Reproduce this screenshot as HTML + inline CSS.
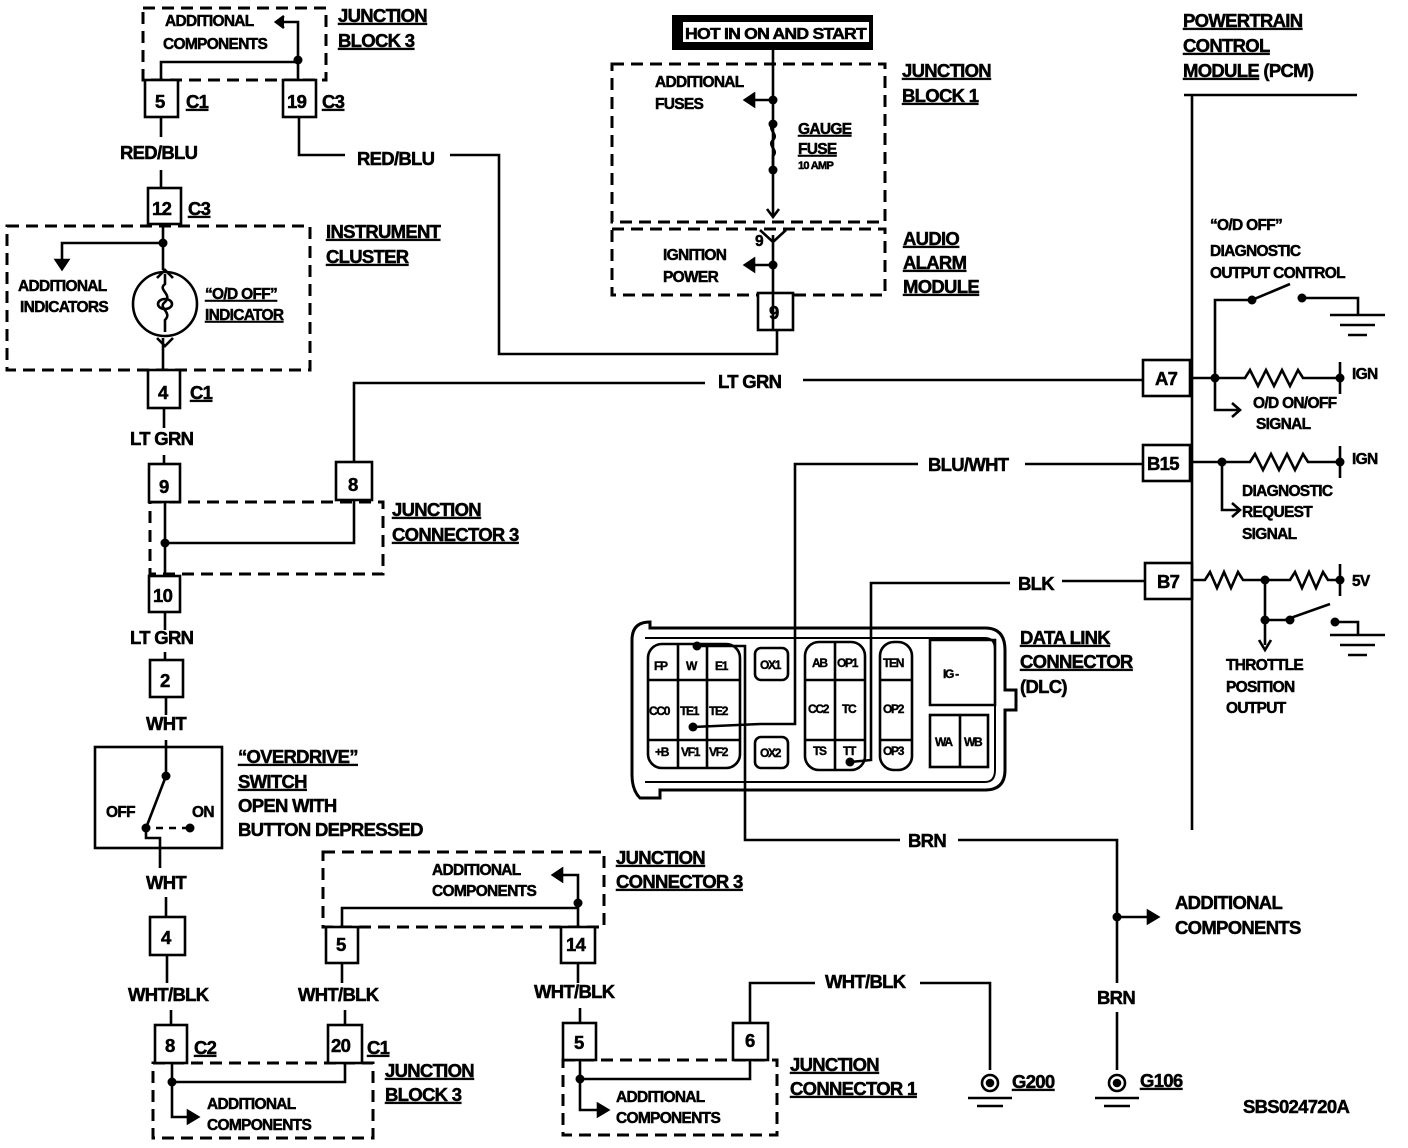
<!DOCTYPE html>
<html><head><meta charset="utf-8"><style>
html,body{margin:0;padding:0;background:#fff;}
svg{display:block;}
text{font-family:"Liberation Sans",Arial,sans-serif;font-weight:bold;font-size:18.5px;fill:#000;stroke:#000;stroke-width:0.5px;letter-spacing:-0.7px;}
.s{font-size:15.5px;}
.u{text-decoration:underline;}
.d{font-size:12px;letter-spacing:-1.3px;stroke-width:0.4px;}
</style></head><body>
<svg width="1408" height="1148" viewBox="0 0 1408 1148" xmlns="http://www.w3.org/2000/svg">
<g fill="none" stroke="#000" stroke-width="2.6">
<g stroke-dasharray="12 7" stroke-width="3">
<rect x="143" y="8" width="183" height="72"/>
<rect x="7" y="226" width="303" height="144"/>
<rect x="150" y="502" width="233" height="72"/>
<rect x="612" y="64" width="273" height="158"/>
<rect x="612" y="229" width="273" height="66"/>
<rect x="323" y="852" width="281" height="75"/>
<rect x="153" y="1063" width="220" height="75"/>
<rect x="563" y="1060" width="214" height="75"/>
</g>
<rect x="145" y="80" width="33" height="37" fill="#fff"/>
<rect x="283" y="80" width="33" height="37" fill="#fff"/>
<rect x="148" y="188" width="33" height="36" fill="#fff"/>
<rect x="148" y="370" width="32" height="38" fill="#fff"/>
<rect x="149" y="464" width="31" height="38" fill="#fff"/>
<rect x="336" y="462" width="36" height="38" fill="#fff"/>
<rect x="149" y="576" width="31" height="36" fill="#fff"/>
<rect x="150" y="660" width="33" height="37" fill="#fff"/>
<rect x="95" y="747" width="127" height="101"/>
<rect x="150" y="917" width="35" height="38" fill="#fff"/>
<rect x="155" y="1025" width="32" height="38" fill="#fff"/>
<rect x="328" y="1025" width="34" height="38" fill="#fff"/>
<rect x="326" y="927" width="32" height="36" fill="#fff"/>
<rect x="561" y="927" width="34" height="36" fill="#fff"/>
<rect x="563" y="1023" width="33" height="37" fill="#fff"/>
<rect x="733" y="1023" width="35" height="37" fill="#fff"/>
<rect x="758" y="293" width="35" height="37" fill="#fff"/>
<rect x="1143" y="360" width="47" height="36" fill="#fff"/>
<rect x="1143" y="445" width="47" height="36" fill="#fff"/>
<rect x="1145" y="563" width="47" height="36" fill="#fff"/>
<path d="M161 80V62H298V80M298 62V22H280M161 117V137M161 170V188M299 117V155H345M450 155H499V354H777V330"/>
<path d="M284 16l-8 6 8 6" fill="#000"/>
<path d="M163 224V270M163 243H62V262M163 338V370"/>
<path d="M56 260h12l-6 9z" fill="#000"/>
<circle cx="165" cy="304" r="32"/>
<path d="M157 278l8-8 8 8M157 338l8 8 8-8M165 274v10c-8 6 8 10 0 18c-8 6 8 10 0 18v12"/>
<ellipse cx="165" cy="304" rx="7" ry="5"/>
<path d="M164 408V428M164 455V464M354 462V383H705M803 380H1143M165 502V576M165 543H354V500M165 612V630M165 652V660M166 697V715M166 740V747"/>
<path d="M166 747V776L146 828M146 828V838H160V848M160 848V868M166 897V917M167 955V983M171 1010V1025M345 1010V1025M342 963V983M578 963V983M580 1008V1023"/>
<path d="M156 828H192" stroke-dasharray="7 6"/>
<path d="M172 1063V1117H190M172 1082H345V1063"/>
<path d="M188 1111l10 6-10 6z" fill="#000"/>
<path d="M342 927V908H578V927M578 908V875H560"/>
<path d="M562 869l-9 6 9 6z" fill="#000"/>
<path d="M580 1060V1110H600M580 1079H750V1060M750 1023V983H815M920 983H990V1070"/>
<path d="M598 1104l10 6-10 6z" fill="#000"/>
<circle cx="990" cy="1083" r="8"/><circle cx="990" cy="1083" r="3" fill="#000"/>
<path d="M968 1098H1012M977 1106H1003"/>
<circle cx="1117" cy="1083" r="8"/><circle cx="1117" cy="1083" r="3" fill="#000"/>
<path d="M1095 1098H1139M1104 1106H1130"/>
<path d="M773 50V215M773 100H752M767 209l6 8 6-8M773 235V330M760 230l13 12 13-12M773 265H752"/>
<path d="M754 94l-9 6 9 6zM754 259l-9 6 9 6z" fill="#000"/>
<path d="M1143 464H1025M918 464H795V724H760L693 727M1145 581H1062M1010 583H871V760L850 762M697 646H745V840H900M958 840H1117V983M1117 917H1150M1117 1012V1070"/>
<path d="M1148 911l10 6-10 6z" fill="#000"/>
<path d="M1192 95V830M1184 95H1357"/>
<path d="M1190 378H1245l5-8 8 16 8-16 8 16 8-16 8 16 8-16 5 8H1340M1340 362V394M1215 378V300H1252L1290 284M1302 298H1358V315M1330 315H1385M1340 325H1375M1348 335H1367M1215 378V410H1238M1232 403l8 7-8 7"/>
<path d="M1190 462H1250l5-8 8 16 8-16 8 16 8-16 8 16 8-16 5 8H1340M1340 446V478M1222 462V510H1238M1232 503l8 7-8 7"/>
<path d="M1192 580H1205l5-8 7 16 7-16 7 16 7-16 5 8H1290l5-8 7 16 7-16 7 16 7-16 5 8H1340M1340 564V596M1265 580V645M1259 640l6 10 6-10M1265 620H1285L1330 604M1335 622H1358V635M1330 635H1385M1340 645H1375M1348 655H1367"/>
<path d="M650 628H985Q1005 628 1005 650V690H1016V710H1005V770Q1005 790 985 790H660V798H640Q632 790 632 775V640Q632 622 650 622Z" stroke-width="3"/>
<path d="M645 638H985Q995 638 995 650V770Q995 782 985 782H645" stroke-width="2"/>
<rect x="648" y="644" width="92" height="124" rx="14"/>
<path d="M678 644V768M707 644V768M648 680H740M648 740H740"/>
<rect x="755" y="648" width="33" height="32" rx="6"/>
<rect x="755" y="737" width="33" height="31" rx="6"/>
<rect x="805" y="642" width="60" height="128" rx="14"/>
<path d="M835 642V770M805 680H865M805 740H865"/>
<rect x="880" y="642" width="32" height="128" rx="14"/>
<path d="M880 680H912M880 740H912"/>
<path d="M930 640H995V705H930Z"/>
<rect x="930" y="715" width="58" height="52"/>
<path d="M960 715V767"/>
</g>
<g fill="#000">
<circle cx="298" cy="60" r="4.5"/><circle cx="163" cy="243" r="4.5"/><circle cx="165" cy="543" r="4.5"/>
<circle cx="166" cy="776" r="4.5"/><circle cx="146" cy="828" r="4.5"/><circle cx="190" cy="828" r="4.5"/>
<circle cx="172" cy="1082" r="4.5"/><circle cx="578" cy="903" r="4.5"/><circle cx="580" cy="1079" r="4.5"/>
<circle cx="773" cy="100" r="4.5"/><circle cx="773" cy="124" r="4.5"/><circle cx="773" cy="170" r="4.5"/><circle cx="773" cy="265" r="4.5"/>
<circle cx="1117" cy="917" r="4.5"/><circle cx="1215" cy="378" r="4.5"/><circle cx="1340" cy="378" r="4.5"/>
<circle cx="1252" cy="300" r="4.5"/><circle cx="1302" cy="298" r="4.5"/><circle cx="1222" cy="462" r="4.5"/><circle cx="1340" cy="462" r="4.5"/>
<circle cx="1265" cy="580" r="4.5"/><circle cx="1340" cy="580" r="4.5"/><circle cx="1265" cy="620" r="4.5"/><circle cx="1290" cy="620" r="4.5"/><circle cx="1335" cy="622" r="4.5"/>
<circle cx="693" cy="727" r="4.5"/><circle cx="697" cy="646" r="4.5"/><circle cx="850" cy="762" r="4.5"/>
<rect x="672" y="15" width="201" height="35"/>
</g>
<path d="M773 124c-6 6 6 10 0 16c-6 6 6 10 0 16v14" fill="none" stroke="#000" stroke-width="2.6"/>
<g>
<rect x="683" y="22" width="186" height="20" fill="#fff"/>
<text x="685" y="39" class="s" textLength="181" lengthAdjust="spacingAndGlyphs">HOT IN ON AND START</text>
<text x="165" y="26" class="s">ADDITIONAL</text><text x="163" y="49" class="s">COMPONENTS</text>
<text x="338" y="22" class="u">JUNCTION</text><text x="338" y="47" class="u">BLOCK 3</text>
<text x="155" y="108">5</text><text x="186" y="108" class="u">C1</text>
<text x="287" y="108">19</text><text x="322" y="108" class="u">C3</text>
<text x="120" y="159">RED/BLU</text><text x="357" y="165">RED/BLU</text>
<text x="152" y="215">12</text><text x="188" y="215" class="u">C3</text>
<text x="326" y="238" class="u">INSTRUMENT</text><text x="326" y="263" class="u">CLUSTER</text>
<text x="18" y="291" class="s">ADDITIONAL</text><text x="20" y="312" class="s">INDICATORS</text>
<text x="205" y="299" class="s u">“O/D OFF”</text><text x="205" y="320" class="s u">INDICATOR</text>
<text x="158" y="399">4</text><text x="190" y="399" class="u">C1</text>
<text x="130" y="445">LT GRN</text><text x="718" y="388">LT GRN</text>
<text x="159" y="493">9</text><text x="348" y="491">8</text>
<text x="392" y="516" class="u">JUNCTION</text><text x="392" y="541" class="u">CONNECTOR 3</text>
<text x="153" y="602">10</text><text x="130" y="644">LT GRN</text>
<text x="160" y="687">2</text><text x="146" y="730">WHT</text>
<text x="238" y="763" class="u">“OVERDRIVE”</text><text x="238" y="788" class="u">SWITCH</text>
<text x="238" y="812">OPEN WITH</text><text x="238" y="836">BUTTON DEPRESSED</text>
<text x="106" y="817" class="s">OFF</text><text x="192" y="817" class="s">ON</text>
<text x="146" y="889">WHT</text><text x="161" y="944">4</text>
<text x="128" y="1001">WHT/BLK</text><text x="298" y="1001">WHT/BLK</text><text x="534" y="998">WHT/BLK</text>
<text x="165" y="1052">8</text><text x="194" y="1054" class="u">C2</text>
<text x="331" y="1052">20</text><text x="367" y="1054" class="u">C1</text>
<text x="385" y="1077" class="u">JUNCTION</text><text x="385" y="1101" class="u">BLOCK 3</text>
<text x="207" y="1109" class="s">ADDITIONAL</text><text x="207" y="1130" class="s">COMPONENTS</text>
<text x="336" y="951">5</text><text x="566" y="951">14</text>
<text x="432" y="875" class="s">ADDITIONAL</text><text x="432" y="896" class="s">COMPONENTS</text>
<text x="616" y="864" class="u">JUNCTION</text><text x="616" y="888" class="u">CONNECTOR 3</text>
<text x="574" y="1049">5</text><text x="745" y="1047">6</text>
<text x="616" y="1102" class="s">ADDITIONAL</text><text x="616" y="1123" class="s">COMPONENTS</text>
<text x="790" y="1071" class="u">JUNCTION</text><text x="790" y="1095" class="u">CONNECTOR 1</text>
<text x="825" y="988">WHT/BLK</text><text x="1012" y="1088" class="u">G200</text>
<text x="1097" y="1004">BRN</text><text x="1140" y="1087" class="u">G106</text>
<text x="908" y="847">BRN</text>
<text x="1175" y="909">ADDITIONAL</text><text x="1175" y="934">COMPONENTS</text>
<text x="1243" y="1113">SBS024720A</text>
<text x="655" y="87" class="s">ADDITIONAL</text><text x="655" y="109" class="s">FUSES</text>
<text x="798" y="134" class="s u">GAUGE</text><text x="798" y="154" class="s u">FUSE</text><text x="798" y="169" style="font-size:11px">10 AMP</text>
<text x="902" y="77" class="u">JUNCTION</text><text x="902" y="102" class="u">BLOCK 1</text>
<text x="755" y="246" class="s">9</text>
<text x="663" y="260" class="s">IGNITION</text><text x="663" y="282" class="s">POWER</text>
<text x="903" y="245" class="u">AUDIO</text><text x="903" y="269" class="u">ALARM</text><text x="903" y="293" class="u">MODULE</text>
<text x="769" y="319">9</text>
<text x="1183" y="27" class="u">POWERTRAIN</text><text x="1183" y="52" class="u">CONTROL</text><text x="1183" y="77"><tspan class="u">MODULE</tspan> (PCM)</text>
<text x="1210" y="230" class="s">“O/D OFF”</text><text x="1210" y="256" class="s">DIAGNOSTIC</text><text x="1210" y="278" class="s">OUTPUT CONTROL</text>
<text x="1155" y="385">A7</text><text x="1147" y="470">B15</text><text x="1157" y="588">B7</text>
<text x="1352" y="379" class="s">IGN</text><text x="1352" y="464" class="s">IGN</text><text x="1352" y="586" class="s">5V</text>
<text x="1253" y="408" class="s">O/D ON/OFF</text><text x="1256" y="429" class="s">SIGNAL</text>
<text x="1242" y="496" class="s">DIAGNOSTIC</text><text x="1242" y="517" class="s">REQUEST</text><text x="1242" y="539" class="s">SIGNAL</text>
<text x="1226" y="670" class="s">THROTTLE</text><text x="1226" y="692" class="s">POSITION</text><text x="1226" y="713" class="s">OUTPUT</text>
<text x="928" y="471">BLU/WHT</text><text x="1018" y="590">BLK</text>
<text x="1020" y="644" class="u">DATA LINK</text><text x="1020" y="668" class="u">CONNECTOR</text><text x="1020" y="693">(DLC)</text>
<g>
<text class="d" x="654" y="670">FP</text><text class="d" x="686" y="670">W</text><text class="d" x="715" y="670">E1</text>
<text class="d" x="649" y="715">CC0</text><text class="d" x="680" y="715">TE1</text><text class="d" x="709" y="715">TE2</text>
<text class="d" x="655" y="756">+B</text><text class="d" x="681" y="756">VF1</text><text class="d" x="709" y="756">VF2</text>
<text class="d" x="760" y="669">OX1</text><text class="d" x="760" y="757">OX2</text>
<text class="d" x="812" y="667">AB</text><text class="d" x="837" y="667">OP1</text>
<text class="d" x="808" y="713">CC2</text><text class="d" x="842" y="713">TC</text>
<text class="d" x="813" y="755">TS</text><text class="d" x="843" y="755">TT</text>
<text class="d" x="883" y="667">TEN</text><text class="d" x="883" y="713">OP2</text><text class="d" x="883" y="755">OP3</text>
<text class="d" x="943" y="678">IG -</text><text class="d" x="935" y="746">WA</text><text class="d" x="964" y="746">WB</text>
</g>
</g>
</svg>
</body></html>
